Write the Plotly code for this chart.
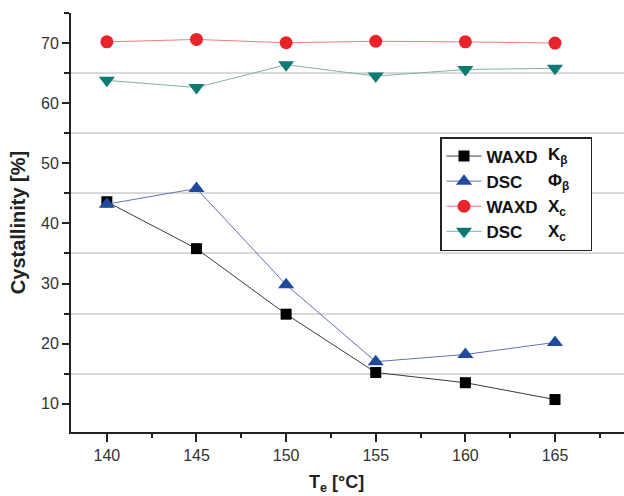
import plotly.graph_objects as go

temps = [140, 145, 150, 155, 160, 165]
waxd_k = [43.6, 35.8, 24.9, 15.2, 13.5, 10.7]
dsc_phi = [43.2, 45.8, 29.8, 17.0, 18.2, 20.2]
waxd_xc = [70.2, 70.6, 70.05, 70.3, 70.2, 70.0]
dsc_xc = [63.8, 62.6, 66.4, 64.5, 65.6, 65.8]

legend_method = ["WAXD", "DSC", "WAXD", "DSC"]
legend_sym = ["K<sub>β</sub>", "Φ<sub>β</sub>", "X<sub>c</sub>", "X<sub>c</sub>"]

FONT = "Liberation Sans, Arial, sans-serif"
NBSP = "\u00a0"

fig = go.Figure()
styles = [
    dict(line=dict(color="#3a3a3a", width=1), marker=dict(symbol="square", size=11, color="#000000")),
    dict(line=dict(color="#5f73b5", width=1), marker=dict(symbol="triangle-up", size=14, color="#1f4a9e")),
    dict(line=dict(color="#ef7f7a", width=1), marker=dict(symbol="circle", size=13, color="#e8232a")),
    dict(line=dict(color="#7fb3b0", width=1), marker=dict(symbol="triangle-down", size=14, color="#0d7a74")),
]
series = [waxd_k, dsc_phi, waxd_xc, dsc_xc]
for i, (ys, st, meth) in enumerate(zip(series, styles, legend_method)):
    name = "<b>" + meth + "</b>" + (NBSP * 10 if i == 0 else "")
    fig.add_trace(go.Scatter(x=temps, y=ys, mode="lines+markers", name=name, **st))

L, T, B = 71, 13, 64
W, H = 624, 496
pw, ph = W - L, H - T - B

LEG_TOP = 137
fig.update_layout(
    width=W, height=H,
    margin=dict(l=L, r=0, t=T, b=B),
    paper_bgcolor="white", plot_bgcolor="white",
    font=dict(family=FONT, size=16, color="#333333"),
    showlegend=True,
    legend=dict(x=(440 - L) / pw, y=(H - B - LEG_TOP) / ph, xanchor="left", yanchor="top",
                bordercolor="#222222", borderwidth=1.5, bgcolor="white",
                font=dict(family=FONT, size=17, color="#111111"),
                tracegroupgap=0, itemwidth=35),
    xaxis=dict(range=[138, 168.85], tickvals=temps,
               ticks="outside", ticklen=8, tickwidth=1.5, tickcolor="#222222",
               showline=True, linecolor="#222222", linewidth=2, showgrid=False, zeroline=False,
               minor=dict(tickvals=[142.5, 147.5, 152.5, 157.5, 162.5, 167.5], ticks="outside",
                          ticklen=4, tickwidth=1.5, tickcolor="#222222", showgrid=False),
               tickfont=dict(size=16, color="#333333")),
    yaxis=dict(range=[5.3, 75], tickvals=[10, 20, 30, 40, 50, 60, 70],
               ticks="outside", ticklen=7, tickwidth=1.5, tickcolor="#222222",
               showline=True, linecolor="#222222", linewidth=2, showgrid=False, zeroline=False,
               minor=dict(tickvals=[15, 25, 35, 45, 55, 65, 75], ticks="outside",
                          ticklen=5, tickwidth=1.5, tickcolor="#222222",
                          showgrid=True, gridcolor="#d9d9d9", gridwidth=1.5),
               tickfont=dict(size=16, color="#333333"),
               title=dict(text="<b>Cystallinity [%]</b>", font=dict(size=20, color="#222222"),
                          standoff=10)),
)

# x-axis title
fig.add_annotation(x=(336 - L) / pw, xref="paper", y=(H - B - 484) / ph, yref="paper",
                   text="<b>T<sub>e</sub> [°C]</b>", showarrow=False,
                   font=dict(family=FONT, size=18, color="#222222"),
                   xanchor="center", yanchor="middle")

# second column of legend labels, aligned with legend rows
row0 = LEG_TOP + 19.5
row_step = 25.5
for k, sym in enumerate(legend_sym):
    ry = row0 + k * row_step
    fig.add_annotation(x=(546 - L) / pw, xref="paper", y=(H - B - ry) / ph, yref="paper",
                       text="<b>" + sym + "</b>", showarrow=False,
                       font=dict(family=FONT, size=17, color="#111111"),
                       xanchor="left", yanchor="middle")

fig.write_html("out.html")
